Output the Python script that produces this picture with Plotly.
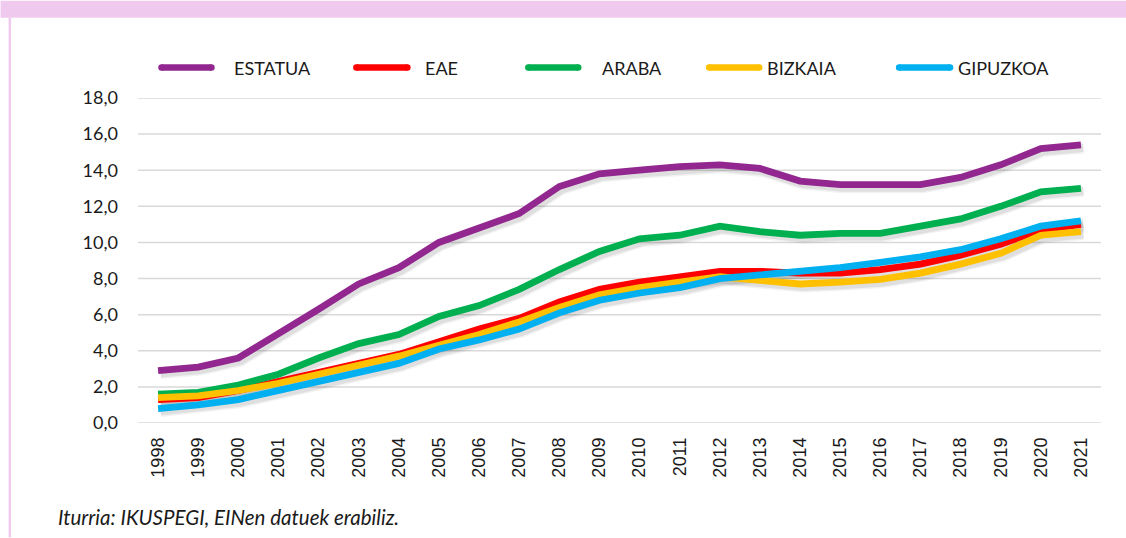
import plotly.graph_objects as go

# ---------------- data ----------------
years = [str(y) for y in range(1998, 2022)]
series_names = ["ESTATUA", "EAE", "ARABA", "BIZKAIA", "GIPUZKOA"]
estatua = [2.9, 3.1, 3.6, 4.9, 6.3, 7.7, 8.6, 10.0, 10.8, 11.6, 13.1, 13.8,
           14.0, 14.2, 14.3, 14.1, 13.4, 13.2, 13.2, 13.2, 13.6, 14.3, 15.2, 15.4]
eae = [1.3, 1.4, 1.8, 2.3, 2.8, 3.3, 3.8, 4.5, 5.2, 5.8, 6.7, 7.4,
       7.8, 8.1, 8.4, 8.4, 8.3, 8.3, 8.5, 8.8, 9.3, 9.9, 10.7, 11.0]
araba = [1.6, 1.7, 2.1, 2.7, 3.6, 4.4, 4.9, 5.9, 6.5, 7.4, 8.5, 9.5,
         10.2, 10.4, 10.9, 10.6, 10.4, 10.5, 10.5, 10.9, 11.3, 12.0, 12.8, 13.0]
bizkaia = [1.4, 1.5, 1.8, 2.2, 2.7, 3.2, 3.7, 4.3, 4.9, 5.6, 6.4, 7.1,
           7.5, 7.8, 8.1, 7.9, 7.7, 7.8, 7.95, 8.3, 8.8, 9.4, 10.4, 10.6]
gipuzkoa = [0.8, 1.0, 1.3, 1.8, 2.3, 2.8, 3.3, 4.1, 4.6, 5.2, 6.1, 6.8,
            7.2, 7.5, 8.0, 8.2, 8.4, 8.6, 8.9, 9.2, 9.6, 10.2, 10.9, 11.2]
y_ticks = [0, 2, 4, 6, 8, 10, 12, 14, 16, 18]
source_note = "Iturria: IKUSPEGI, EINen datuek erabiliz."

values = [estatua, eae, araba, bizkaia, gipuzkoa]
colors = ["#92278F", "#FF0000", "#00B050", "#FFC000", "#00B0F0"]

# ---------------- layout geometry ----------------
W, H = 1126, 538
ML, MR, MT, MB = 137.5, 25, 97.5, 114.5
PW = W - ML - MR
PH = H - MT - MB


def px(x):
    return (x - ML) / PW


def py(y):
    return (H - MB - y) / PH


X_RANGE = [-0.5, len(years) - 0.5]
Y_RANGE = [0, 18]
# shadow offset (pixels -> axis units)
SDX = 2.5 * (X_RANGE[1] - X_RANGE[0]) / PW
SDY = 3.0 * (Y_RANGE[1] - Y_RANGE[0]) / PH

fig = go.Figure()

# invisible trace carrying the visible base axes
fig.add_trace(go.Scatter(x=years, y=estatua, mode="lines", xaxis="x", yaxis="y",
                         line=dict(color="rgba(0,0,0,0)", width=0),
                         hoverinfo="skip", showlegend=False))

# soft shadows on overlay axes with shifted ranges
for vals in values:
    for w, op in [(11, 0.05), (8, 0.08)]:
        fig.add_trace(go.Scatter(
            x=years, y=vals, mode="lines", xaxis="x2", yaxis="y2",
            line=dict(color=f"rgba(0,0,0,{op})", width=w),
            hoverinfo="skip", showlegend=False))

# main lines
for name, vals, col in zip(series_names, values, colors):
    fig.add_trace(go.Scatter(
        x=years, y=vals, mode="lines", name=name, xaxis="x3", yaxis="y3",
        line=dict(color=col, width=6.8), showlegend=False))

tick_font = dict(family="Lato", size=18, color="#1A1A1A")

fig.update_layout(
    width=W, height=H,
    margin=dict(l=ML, r=MR, t=MT, b=MB, autoexpand=False),
    paper_bgcolor="white", plot_bgcolor="white",
    separators=",.",
    showlegend=False,
    xaxis=dict(
        type="category", range=X_RANGE,
        tickangle=-90, tickfont=dict(family="Liberation Sans", size=18, color="#1A1A1A"),
        showgrid=False, zeroline=False, showline=False, ticks="",
        ticklabelstandoff=10, fixedrange=True,
        tickvals=years, ticktext=years,
    ),
    yaxis=dict(
        range=Y_RANGE,
        tickvals=y_ticks, tickformat=".1f", tickfont=tick_font,
        showgrid=False, zeroline=False, showline=False, ticks="",
        ticklabelstandoff=19, fixedrange=True,
    ),
    xaxis2=dict(type="category", range=[X_RANGE[0] - SDX, X_RANGE[1] - SDX],
                overlaying="x", visible=False, fixedrange=True),
    yaxis2=dict(range=[Y_RANGE[0] + SDY, Y_RANGE[1] + SDY], overlaying="y",
                visible=False, fixedrange=True),
    xaxis3=dict(type="category", range=X_RANGE, overlaying="x", visible=False,
                fixedrange=True),
    yaxis3=dict(range=Y_RANGE, overlaying="y", visible=False, fixedrange=True),
)

shapes = []
for v in y_ticks:
    shapes.append(dict(type="line", xref="paper", yref="y", x0=0, x1=1, y0=v, y1=v,
                       line=dict(color="#D9D9D9", width=1.5), layer="below"))

# pink frame
PINK = "#EFCAEE"
shapes.append(dict(type="rect", xref="paper", yref="paper", x0=px(0), x1=px(W),
                   y0=py(17), y1=py(0), fillcolor=PINK, line=dict(width=0), layer="above"))
shapes.append(dict(type="rect", xref="paper", yref="paper", x0=px(8), x1=px(10.5),
                   y0=py(H), y1=py(17), fillcolor=PINK, line=dict(width=0), layer="above"))

# custom legend
legend_items = [(158, 214, 232), (353, 410, 423), (525, 581, 600), (706, 762, 765), (896, 953, 956)]
LEG_Y = 67
annotations = []
for (x0, x1, xt), name, col in zip(legend_items, series_names, colors):
    shapes.append(dict(type="line", xref="paper", yref="paper", x0=px(x0 + 3), x1=px(x1 - 3),
                       y0=py(LEG_Y), y1=py(LEG_Y), line=dict(color=col, width=6.5)))
    for xc in (x0 + 3, x1 - 3):
        shapes.append(dict(type="circle", xref="paper", yref="paper",
                           xsizemode="pixel", ysizemode="pixel",
                           xanchor=px(xc), yanchor=py(LEG_Y),
                           x0=-3.25, x1=3.25, y0=-3.25, y1=3.25,
                           fillcolor=col, line=dict(width=0)))
    annotations.append(dict(text=name, xref="paper", yref="paper", x=px(xt), y=py(LEG_Y),
                            xanchor="left", yanchor="middle", showarrow=False,
                            font=dict(family="Lato", size=18, color="#1A1A1A")))

annotations.append(dict(text=f"<i>{source_note}</i>", xref="paper", yref="paper",
                        x=px(55), y=py(518), xanchor="left", yanchor="middle",
                        showarrow=False,
                        font=dict(family="Lato", size=20.5, color="#1A1A1A")))

fig.update_layout(shapes=shapes, annotations=annotations)

fig.write_html("out.html", config={"displayModeBar": False, "staticPlot": True},
               post_script="document.body.style.margin='0';")
